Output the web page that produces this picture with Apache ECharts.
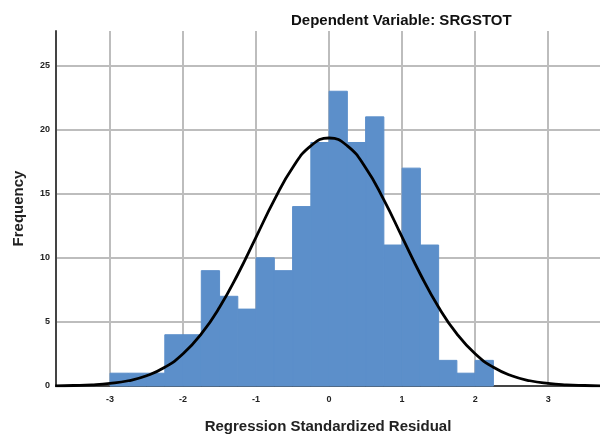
<!DOCTYPE html>
<html>
<head>
<meta charset="utf-8">
<script src="https://cdn.jsdelivr.net/npm/echarts@6/dist/echarts.min.js"></script>
<style>
  html, body { margin: 0; padding: 0; background: #fff; }
  #main { width: 600px; height: 434px; }
</style>
</head>
<body>
<div id="main"></div>
<script>
// histogram bins (lower edge) and counts, bin width 0.25
const binStarts = [-3, -2.75, -2.5, -2.25, -2, -1.75, -1.5, -1.25, -1, -0.75, -0.5,
  -0.25, 0, 0.25, 0.5, 0.75, 1, 1.25, 1.5, 1.75, 2];
const counts = [1, 1, 1, 4, 4, 9, 7, 6, 10, 9, 14, 19, 23, 19, 21, 11, 17, 11, 2, 1, 2];
const binWidth = 0.25;

// normal curve
const curveX = [-3.75, -3.5, -3.25, -3, -2.75, -2.5, -2.25, -2, -1.75, -1.5, -1.25, -1,
  -0.75, -0.5, -0.25, 0, 0.25, 0.5, 0.75, 1, 1.25, 1.5, 1.75, 2, 2.25, 2.5, 2.75, 3,
  3.25, 3.5, 3.75];
const curveY = [0.01, 0.04, 0.09, 0.2, 0.41, 0.8, 1.46, 2.51, 4.06, 6.14, 8.72, 11.62,
  14.52, 17.03, 18.74, 19.35, 18.74, 17.03, 14.52, 11.62, 8.72, 6.14, 4.06, 2.51, 1.46,
  0.8, 0.41, 0.2, 0.09, 0.04, 0.01];

const xTicks = [-3, -2, -1, 0, 1, 2, 3];
const yTicks = [0, 5, 10, 15, 20, 25];

const chart = echarts.init(document.getElementById('main'));

const font = 'Liberation Sans, Arial, sans-serif';
const gridColor = '#bdbdbd';
const barColor = '#5c8fca';

chart.setOption({
  animation: false,
  title: {
    text: 'Dependent Variable: SRGSTOT',
    left: 286,
    top: 8,
    textStyle: { fontFamily: font, fontSize: 15, fontWeight: 'bold', color: '#111' }
  },
  grid: { left: 56, right: 0, top: 31, bottom: 48, outerBoundsMode: 'none' },
  xAxis: {
    type: 'value',
    min: -3.74,
    max: 3.71,
    name: 'Regression Standardized Residual',
    nameLocation: 'middle',
    nameGap: 33,
    nameTextStyle: { fontFamily: font, fontSize: 15, fontWeight: 'bold', color: '#222' },
    axisLine: { show: true, onZero: false, lineStyle: { color: '#444', width: 2 } },
    axisTick: { show: false, customValues: xTicks },
    axisLabel: { customValues: xTicks, fontFamily: font, fontSize: 9, fontWeight: 'bold', color: '#222', margin: 9 },
    splitLine: { show: true, lineStyle: { color: gridColor, width: 2 } }
  },
  yAxis: {
    type: 'value',
    min: 0,
    max: 27.7,
    name: 'Frequency',
    nameLocation: 'middle',
    nameGap: 30,
    nameTextStyle: { fontFamily: font, fontSize: 15, fontWeight: 'bold', color: '#222' },
    axisLine: { show: true, onZero: false, lineStyle: { color: '#444', width: 2 } },
    axisTick: { show: false, customValues: yTicks },
    axisLabel: { customValues: yTicks, fontFamily: font, fontSize: 9, fontWeight: 'bold', color: '#222', margin: 6 },
    splitLine: { show: true, lineStyle: { color: gridColor, width: 2 } }
  },
  series: [
    {
      type: 'custom',
      z: 2,
      data: binStarts.map((s, i) => [s, s + binWidth, counts[i]]),
      renderItem: function (params, api) {
        const p0 = api.coord([api.value(0), api.value(2)]);
        const p1 = api.coord([api.value(1), 0]);
        return {
          type: 'rect',
          shape: { x: p0[0], y: p0[1], width: p1[0] - p0[0], height: p1[1] - p0[1] },
          style: { fill: barColor, stroke: barColor, lineWidth: 1 }
        };
      }
    },
    {
      type: 'line',
      z: 3,
      smooth: true,
      symbol: 'none',
      clip: true,
      data: curveX.map((x, i) => [x, curveY[i]]),
      lineStyle: { color: '#000', width: 2.8 }
    }
  ]
});
</script>
</body>
</html>
